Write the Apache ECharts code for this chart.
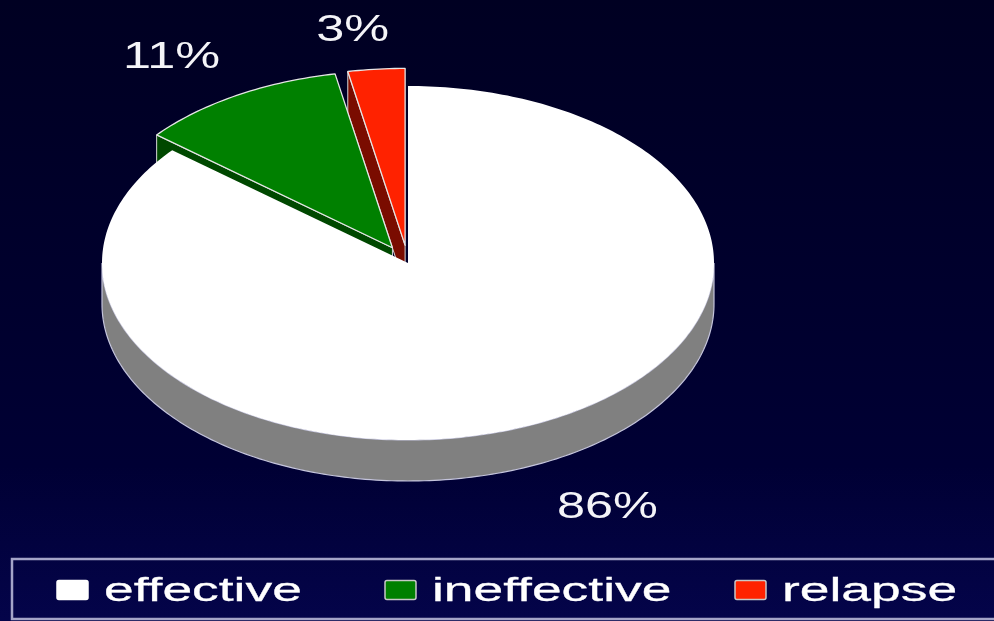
<!DOCTYPE html>
<html>
<head>
<meta charset="utf-8">
<script src="https://cdn.jsdelivr.net/npm/echarts@6/dist/echarts.min.js"></script>
<style>
  html, body { margin: 0; padding: 0; background: #000022; }
  #chart { width: 994px; height: 621px; }
</style>
</head>
<body>
<div id="chart"></div>
<script>
// Treatment outcome shares
const categories = ['effective', 'ineffective', 'relapse'];
const shares = [86, 11, 3];
const pctLabels = ['86%', '11%', '3%'];
const exploded = [false, true, true];

// Colours: slice tops and their darker walls
const topColors = ['#ffffff', '#008000', '#ff2200'];
const sideColors = ['#808080', '#004800', '#7a0c00'];

// Tilted-disc geometry (pixels)
const CX = 408, CY = 263, RX = 306, RY = 177, DEPTH = 41, EXPLODE = 0.1;
const LABEL_K = 1.2;
const labelNudge = { effective: [43, 12], ineffective: [-34, -7], relapse: [-18, -3] };
const LABEL_FONT = '36px "Liberation Sans", Arial, sans-serif';
const LABEL_STRETCH = 1.4;

// Legend layout
const LEGEND_FONT = '34px "Liberation Sans", Arial, sans-serif';
const LEGEND_STRETCH = 1.57;
const legendSlots = [57, 385, 735];
const MARK_W = 31, MARK_H = 19, MARK_GAP = 16, LEG_Y = 590;

const total = shares.reduce((a, b) => a + b, 0);
const spans = [];
let acc = 0;
shares.forEach(v => {
  const a0 = acc / total * 360;
  acc += v;
  spans.push([a0, acc / total * 360]);
});

const rad = d => d * Math.PI / 180;
// angle is measured clockwise from 12 o'clock
function rim(theta, ox, oy, dz) {
  return [CX + ox + RX * Math.sin(rad(theta)), CY + oy - RY * Math.cos(rad(theta)) + dz];
}
function arc(a0, a1, ox, oy, dz) {
  const pts = [];
  const n = Math.max(2, Math.ceil(Math.abs(a1 - a0)));
  for (let i = 0; i <= n; i++) pts.push(rim(a0 + (a1 - a0) * i / n, ox, oy, dz));
  return pts;
}

function renderSlice(params, api) {
  const i = params.dataIndex;
  const [a0, a1] = spans[i];
  const mid = (a0 + a1) / 2;
  let ox = 0, oy = 0;
  if (exploded[i]) {
    ox = EXPLODE * RX * Math.sin(rad(mid));
    oy = -EXPLODE * RY * Math.cos(rad(mid));
  }
  const c = [CX + ox, CY + oy];
  const children = [];
  const edgeStroke = i === 0 ? '#c4c4dc' : '#d8d8d8';

  // radial cut faces, drawn only when they turn toward the viewer
  [[a0, a0 - 90], [a1, a1 + 90]].forEach(([edge, normal]) => {
    if (Math.cos(rad(normal)) < -1e-6) {
      const r = rim(edge, ox, oy, 0);
      children.push({
        type: 'polygon', z2: 1,
        shape: { points: [c, r, [r[0], r[1] + DEPTH], [c[0], c[1] + DEPTH]] },
        style: { fill: sideColors[i], stroke: edgeStroke, lineWidth: 1 }
      });
    }
  });

  // outer wall on the near half of the disc
  const f0 = Math.max(a0, 90), f1 = Math.min(a1, 270);
  if (f1 > f0) {
    const pts = arc(f0, f1, ox, oy, 0).concat(arc(f1, f0, ox, oy, DEPTH));
    children.push({
      type: 'polygon', z2: 2,
      shape: { points: pts },
      style: { fill: sideColors[i], stroke: edgeStroke, lineWidth: 1.2 }
    });
  }

  // top face
  children.push({
    type: 'polygon', z2: 10,
    shape: { points: [c].concat(arc(a0, a1, ox, oy, 0)) },
    style: i === 0
      ? { fill: topColors[i] }
      : { fill: topColors[i], stroke: '#e6e6e6', lineWidth: 1.3, lineJoin: 'round' }
  });

  // percentage label outside the rim
  let lx = CX + ox + RX * LABEL_K * Math.sin(rad(mid));
  let ly = CY + oy - RY * LABEL_K * Math.cos(rad(mid));
  if (Math.cos(rad(mid)) < 0) ly += DEPTH;
  const nudge = labelNudge[categories[i]] || [0, 0];
  children.push({
    type: 'text', z2: 20,
    x: lx + nudge[0], y: ly + nudge[1],
    scaleX: LABEL_STRETCH,
    style: {
      text: pctLabels[i], fill: '#f4f4f8', font: LABEL_FONT,
      align: 'center', verticalAlign: 'middle'
    }
  });

  return { type: 'group', children };
}

// Legend entries built from the categories
const legendItems = [];
categories.forEach((name, i) => {
  const x = legendSlots[i];
  legendItems.push({
    type: 'rect',
    shape: { x: x, y: LEG_Y - MARK_H / 2, width: MARK_W, height: MARK_H, r: 2 },
    style: { fill: topColors[i], stroke: i === 0 ? '#ffffff' : '#c8c8c8', lineWidth: 1.5 }
  });
  legendItems.push({
    type: 'text',
    x: x + MARK_W + MARK_GAP, y: LEG_Y + 2,
    scaleX: LEGEND_STRETCH,
    style: {
      text: name, fill: '#ffffff', font: LEGEND_FONT,
      stroke: '#ffffff', lineWidth: 0.3,
      align: 'left', verticalAlign: 'middle'
    }
  });
});

const chart = echarts.init(document.getElementById('chart'), null, { renderer: 'canvas' });
chart.setOption({
  animation: false,
  backgroundColor: {
    type: 'linear', x: 0, y: 0, x2: 0, y2: 1,
    colorStops: [
      { offset: 0, color: '#000022' },
      { offset: 0.75, color: '#000034' },
      { offset: 1, color: '#04044a' }
    ]
  },
  graphic: [
    {
      type: 'rect',
      shape: { x: 12, y: 559, width: 992, height: 60 },
      style: { fill: 'none', stroke: '#a4a4c8', lineWidth: 2.5 }
    }
  ].concat(legendItems),
  series: [{
    type: 'custom',
    coordinateSystem: 'none',
    silent: true,
    renderItem: renderSlice,
    data: shares.map((v, i) => ({ name: categories[i], value: v }))
  }]
});
</script>
</body>
</html>
